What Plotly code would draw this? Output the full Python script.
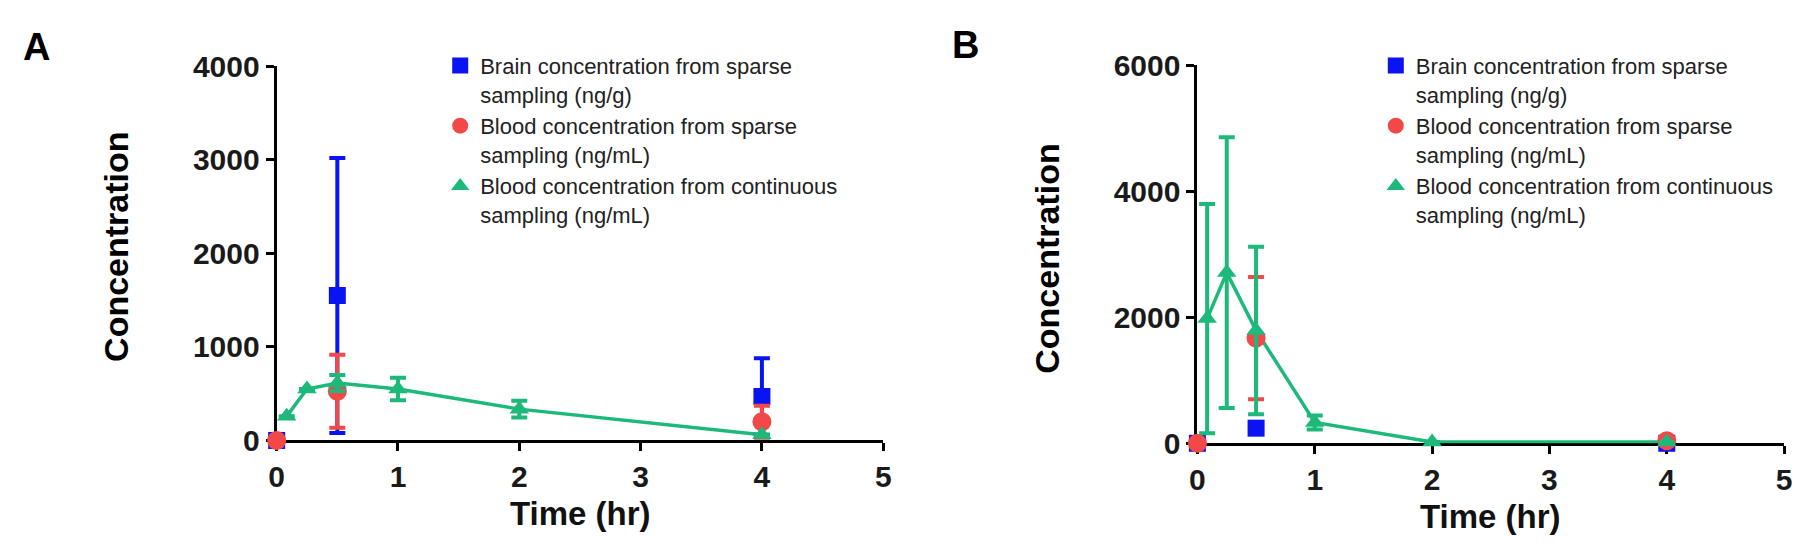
import plotly.graph_objects as go
from plotly.subplots import make_subplots

# panel A
a_brain_t = [0, 0.5, 4]
a_brain = [0, 1550, 470]
a_brain_err = [0, 1470, 410]
a_sparse_t = [0, 0.5, 4]
a_sparse = [0, 525, 200]
a_sparse_err = [0, 390, 170]
a_cont_t = [0.083, 0.25, 0.5, 1, 2, 4]
a_cont = [260, 550, 615, 550, 335, 60]
a_cont_err = [0, 0, 85, 120, 90, 0]

# panel B
b_brain_t = [0, 0.5, 4]
b_brain = [0, 240, 0]
b_brain_err = [0, 60, 0]
b_sparse_t = [0, 0.5, 4]
b_sparse = [0, 1670, 40]
b_sparse_err = [0, 970, 0]
b_cont_t = [0.083, 0.25, 0.5, 1, 2, 4]
b_cont = [1980, 2710, 1790, 330, 20, 20]
b_cont_err = [1820, 2150, 1330, 110, 0, 0]

names = ["Brain concentration from sparse<br>sampling (ng/g)",
         "Blood concentration from sparse<br>sampling (ng/mL)",
         "Blood concentration from continuous<br>sampling (ng/mL)"]

BLUE = "#0a14f2"
RED = "#f24848"
GREEN = "#1db97a"
FONT = "Arial, Liberation Sans, sans-serif"

fig = make_subplots(rows=1, cols=2)


def add_panel(col, legend, brain, sparse, cont):
    # connecting line for the continuous series, kept out of the legend
    fig.add_trace(go.Scatter(x=cont[0], y=cont[1], mode="lines", showlegend=False,
                             line=dict(color=GREEN, width=3.5), hoverinfo="skip"),
                  row=1, col=col)
    specs = [(brain, BLUE, "square", 17),
             (sparse, RED, "circle", 19),
             (cont, GREEN, "triangle-up", 17)]
    for i, (data, color, sym, size) in enumerate(specs):
        t, y, e = data
        fig.add_trace(go.Scatter(
            x=t, y=y, name=names[i], legend=legend, mode="markers",
            marker=dict(color=color, symbol=sym, size=size),
            error_y=dict(type="data", array=e, color=color, thickness=4, width=8),
            cliponaxis=False,
        ), row=1, col=col)


add_panel(1, "legend", (a_brain_t, a_brain, a_brain_err),
          (a_sparse_t, a_sparse, a_sparse_err), (a_cont_t, a_cont, a_cont_err))
add_panel(2, "legend2", (b_brain_t, b_brain, b_brain_err),
          (b_sparse_t, b_sparse, b_sparse_err), (b_cont_t, b_cont, b_cont_err))

axis_common = dict(showline=True, linecolor="black", linewidth=3, ticks="outside",
                   ticklen=8, tickwidth=3, tickcolor="black", showgrid=False,
                   zeroline=False, layer="below traces",
                   tickfont=dict(family=FONT, size=30, color="#1a1a1a", weight="bold"))

fig.update_xaxes(axis_common, range=[0, 5], dtick=1, tick0=0)
fig.update_yaxes(axis_common)
fig.update_xaxes(domain=[263 / 1800, 875 / 1800], row=1, col=1)
fig.update_xaxes(domain=[1192 / 1800, 1784 / 1800], row=1, col=2)
fig.update_yaxes(domain=[1 - 443 / 551, 1 - 45 / 551], range=[0, 4000], dtick=1000, row=1, col=1)
fig.update_yaxes(domain=[1 - 446 / 551, 1 - 44 / 551], range=[0, 6000], dtick=2000, row=1, col=2)

legend_style = dict(font=dict(family=FONT, size=22, color="#222"), valign="top",
                    bgcolor="rgba(0,0,0,0)", xanchor="left", yanchor="top",
                    tracegroupgap=0, itemwidth=30)

title_font = dict(family=FONT, size=34, color="black", weight="bold")
xt_font = dict(family=FONT, size=33, color="#111", weight="bold")
letter_font = dict(family=FONT, size=38, color="black", weight="bold")


def label(text, px, py, font, angle=0):
    return dict(text=text, x=px / 1800, y=1 - py / 551, xref="paper", yref="paper",
                xanchor="center", yanchor="middle", textangle=angle,
                showarrow=False, font=font)


fig.update_layout(
    width=1800, height=551,
    margin=dict(l=0, r=0, t=0, b=0),
    paper_bgcolor="white", plot_bgcolor="white",
    showlegend=True,
    legend=dict(legend_style, x=428 / 1800, y=1 - 22 / 551),
    legend2=dict(legend_style, x=1372 / 1800, y=1 - 22 / 551),
    annotations=[
        label("A", 21, 24, letter_font),
        label("B", 958, 22, letter_font),
        label("Concentration", 101, 237, title_font, -90),
        label("Concentration", 1040, 250, title_font, -90),
        label("Time (hr)", 570, 521, xt_font),
        label("Time (hr)", 1488, 524, xt_font),
    ],
)

fig.write_html("out.html")
